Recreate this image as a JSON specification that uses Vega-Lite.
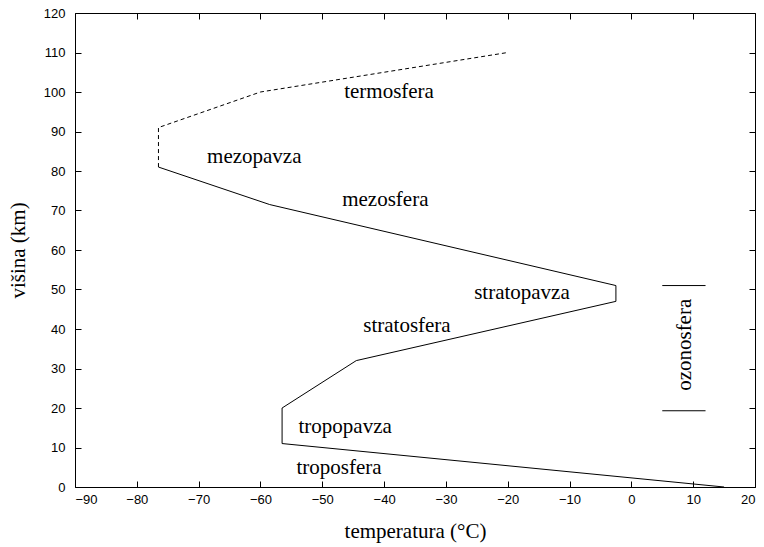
{
  "$schema": "https://vega.github.io/schema/vega-lite/v6.json",
  "width": 680,
  "height": 474,
  "autosize": {"type": "none"},
  "padding": {"left": 75, "top": 13, "right": 9, "bottom": 60},
  "background": "white",
  "config": {
    "view": {"stroke": "black", "strokeWidth": 1},
    "axis": {"grid": false, "domain": false, "tickColor": "black", "tickSize": -6, "tickWidth": 1,
      "labelFont": "Liberation Sans", "labelFontSize": 13, "labelColor": "black",
      "titleFont": "Liberation Serif", "titleFontSize": 21, "titleFontWeight": "normal", "titleColor": "black"}
  },
  "datasets": {
    "solid": [
      {"temp": 15, "alt": 0},
      {"temp": -56.5, "alt": 11},
      {"temp": -56.5, "alt": 20},
      {"temp": -44.5, "alt": 32},
      {"temp": -2.5, "alt": 47},
      {"temp": -2.5, "alt": 51},
      {"temp": -58.5, "alt": 71.5},
      {"temp": -76.5, "alt": 81}
    ],
    "dashed": [
      {"temp": -76.5, "alt": 81},
      {"temp": -76.5, "alt": 91},
      {"temp": -60, "alt": 100},
      {"temp": -20, "alt": 110}
    ],
    "ozone": [
      {"x1": 5, "x2": 12, "alt": 51},
      {"x1": 5, "x2": 12, "alt": 19.3}
    ],
    "labels": [
      {"temp": -39.2, "alt": 100, "label": "termosfera"},
      {"temp": -61, "alt": 83.5, "label": "mezopavza"},
      {"temp": -39.8, "alt": 72.7, "label": "mezosfera"},
      {"temp": -17.7, "alt": 49.1, "label": "stratopavza"},
      {"temp": -36.3, "alt": 40.8, "label": "stratosfera"},
      {"temp": -46.3, "alt": 15.2, "label": "tropopavza"},
      {"temp": -47.3, "alt": 4.8, "label": "troposfera"}
    ],
    "ozlabel": [
      {"temp": 8.7, "alt": 36, "label": "ozonosfera"}
    ]
  },
  "layer": [
    {
      "data": {"name": "solid"},
      "mark": {"type": "line", "color": "black", "strokeWidth": 1},
      "encoding": {
        "x": {"field": "temp", "type": "quantitative", "scale": {"domain": [-90, 20], "nice": false, "zero": false},
          "axis": {"title": "temperatura (°C)", "values": [-90,-80,-70,-60,-50,-40,-30,-20,-10,0,10,20], "labelPadding": 12, "titlePadding": 14}},
        "y": {"field": "alt", "type": "quantitative", "scale": {"domain": [0, 120], "nice": false},
          "axis": {"title": "višina (km)", "values": [0,10,20,30,40,50,60,70,80,90,100,110,120], "labelPadding": 16, "titlePadding": 15}},
        "order": {"field": "alt", "type": "quantitative"}
      }
    },
    {
      "data": {"name": "dashed"},
      "mark": {"type": "line", "color": "black", "strokeWidth": 1, "strokeDash": [4, 3]},
      "encoding": {
        "x": {"field": "temp", "type": "quantitative", "axis": {"orient": "top", "labels": false, "title": null, "values": [-90,-80,-70,-60,-50,-40,-30,-20,-10,0,10,20]}},
        "y": {"field": "alt", "type": "quantitative", "axis": {"orient": "right", "labels": false, "title": null, "values": [0,10,20,30,40,50,60,70,80,90,100,110,120]}},
        "order": {"field": "alt", "type": "quantitative"}
      }
    },
    {
      "data": {"name": "ozone"},
      "mark": {"type": "rule", "color": "black", "strokeWidth": 1},
      "encoding": {
        "x": {"field": "x1", "type": "quantitative", "axis": null},
        "x2": {"field": "x2"},
        "y": {"field": "alt", "type": "quantitative", "axis": null}
      }
    },
    {
      "data": {"name": "labels"},
      "mark": {"type": "text", "font": "Liberation Serif", "fontSize": 21, "color": "black", "align": "center", "baseline": "middle"},
      "encoding": {
        "x": {"field": "temp", "type": "quantitative", "axis": null},
        "y": {"field": "alt", "type": "quantitative", "axis": null},
        "text": {"field": "label"}
      }
    },
    {
      "data": {"name": "ozlabel"},
      "mark": {"type": "text", "font": "Liberation Serif", "fontSize": 21, "color": "black", "align": "center", "baseline": "middle", "angle": 270},
      "encoding": {
        "x": {"field": "temp", "type": "quantitative", "axis": null},
        "y": {"field": "alt", "type": "quantitative", "axis": null},
        "text": {"field": "label"}
      }
    }
  ],
  "resolve": {"axis": {"x": "independent", "y": "independent"}}
}
